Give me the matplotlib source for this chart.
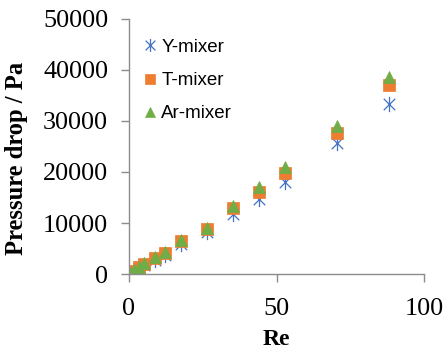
import matplotlib
matplotlib.use("Agg")
import matplotlib.pyplot as plt
from matplotlib.path import Path

# Data
re_vals = [0.88, 1.76, 3.52, 5.28, 8.8, 12.32, 17.6, 26.4, 35.2, 44.0, 52.8, 70.4, 88.0]
y_mixer = [200, 500, 1100, 1800, 2800, 3800, 5800, 8300, 11800, 14800, 18000, 25700, 33300]
t_mixer = [300, 600, 1300, 2000, 3100, 4200, 6400, 8800, 12900, 16000, 19800, 27700, 37000]
ar_mixer = [300, 700, 1400, 2200, 3300, 4400, 6600, 9100, 13300, 17000, 21000, 29000, 38600]
series_names = ["Y-mixer", "T-mixer", "Ar-mixer"]
x_ticks = [0, 50, 100]
y_ticks = [0, 10000, 20000, 30000, 40000, 50000]

# Excel-style star marker: vertical line + X
star = Path([(0, -1), (0, 1), (-0.75, -0.75), (0.75, 0.75), (-0.75, 0.75), (0.75, -0.75)],
            [Path.MOVETO, Path.LINETO, Path.MOVETO, Path.LINETO, Path.MOVETO, Path.LINETO])

fig = plt.figure(figsize=(4.46, 3.5), dpi=100)
ax = fig.add_axes([0.289, 0.217, 0.662, 0.729])

c_y, c_t, c_a = "#4472C4", "#ED7D31", "#70AD47"
ax.plot(re_vals, y_mixer, linestyle="none", marker=star, markersize=11,
        markeredgecolor=c_y, markerfacecolor="none", markeredgewidth=0.9, label=series_names[0])
ax.plot(re_vals, t_mixer, linestyle="none", marker="s", markersize=9,
        markeredgecolor=c_t, markerfacecolor=c_t, markeredgewidth=0.5, label=series_names[1])
ax.plot(re_vals, ar_mixer, linestyle="none", marker="^", markersize=8,
        markeredgecolor=c_a, markerfacecolor=c_a, markeredgewidth=0.5, label=series_names[2])

ax.set_xlim(0, 100)
ax.set_ylim(0, 50000)
ax.set_xticks(x_ticks)
ax.set_yticks(y_ticks)

for s in ["top", "right"]:
    ax.spines[s].set_visible(False)
for s in ["left", "bottom"]:
    ax.spines[s].set_color("#8C8C8C")
    ax.spines[s].set_linewidth(1.0)

serif = "Liberation Serif"
ax.tick_params(axis="both", direction="out", length=6, width=1.0, color="#8C8C8C",
               labelsize=18.8)
ax.tick_params(axis="y", pad=9)
ax.tick_params(axis="x", pad=11)
for lab in ax.get_xticklabels() + ax.get_yticklabels():
    lab.set_fontfamily(serif)

ax.set_xlabel("Re", fontfamily=serif, fontweight="bold", fontsize=17, labelpad=7)
ax.set_ylabel("Pressure drop / Pa", fontfamily=serif, fontweight="bold", fontsize=17.7)
ax.yaxis.set_label_coords(-0.342, 0.455)

leg = ax.legend(loc="upper left", bbox_to_anchor=(0.3195, 0.89), bbox_transform=fig.transFigure,
                frameon=False, prop={"family": "Liberation Sans", "size": 13.5},
                handlelength=0.8, handletextpad=0.2, labelspacing=0.87, borderaxespad=0,
                borderpad=0, markerscale=0.85)

fig.savefig("out.png", dpi=100)
